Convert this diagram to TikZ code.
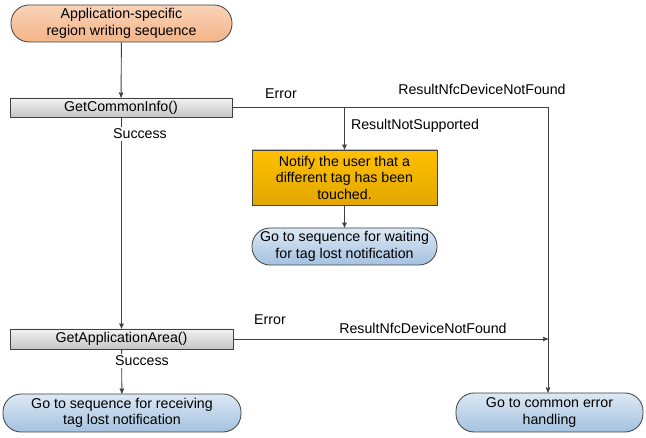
\documentclass[tikz,border=0pt]{standalone}
\usepackage{fontspec}
\setmainfont{Liberation Sans}
\usetikzlibrary{arrows}

\definecolor{linegray}{HTML}{404040}
\definecolor{peach}{HTML}{F9D3B8}
\definecolor{peachdark}{HTML}{F4B488}
\definecolor{amber}{HTML}{FFC000}
\definecolor{amberdark}{HTML}{E2A700}
\definecolor{skyblue}{HTML}{DCE8F4}
\definecolor{skybluedark}{HTML}{A4C2E0}

\begin{document}
\begin{tikzpicture}[x=1pt,y=-1pt]
	\tikzstyle{every node}=[font=\fontsize{14.2}{16.5}\selectfont, inner sep=0pt, align=center, text=black]
	\tikzstyle{box}=[draw=linegray, line width=0.8pt, rectangle]
	\tikzstyle{stepcall}=[box, top color=white!90!gray, bottom color=gray!45]
	\tikzstyle{pill}=[box, rounded corners=18pt]
	\tikzstyle{flow}=[draw=linegray, line width=0.9pt]
	\tikzstyle{arr}=[flow, -stealth']
	\tikzstyle{onwire}=[fill=white, inner sep=1.5pt]
	\useasboundingbox (0,0) rectangle (646,438);
	% nodes
	\draw (121.5,23.5) node (start) [pill, top color=peach, bottom color=peachdark, minimum width=221pt, minimum height=37pt] {Application-specific\\region writing sequence};
	\draw (121,107.5) node (info) [stepcall, minimum width=222pt, minimum height=19pt] {GetCommonInfo()};
	\draw (344.5,177.5) node (notify) [box, top color=amber, bottom color=amberdark, minimum width=185pt, minimum height=55pt] {Notify the user that a\\different tag has been\\touched.};
	\draw (344.5,246.5) node (waitlost) [pill, top color=skyblue, bottom color=skybluedark, minimum width=185pt, minimum height=37pt] {Go to sequence for waiting\\for tag lost notification};
	\draw (121.5,339) node (area) [stepcall, minimum width=223pt, minimum height=20pt] {GetApplicationArea()};
	\draw (122,413) node (recvlost) [pill, top color=skyblue, bottom color=skybluedark, minimum width=238pt, minimum height=38pt] {Go to sequence for receiving\\tag lost notification};
	\draw (549.5,412.5) node (errhandle) [pill, top color=skyblue, bottom color=skybluedark, minimum width=187pt, minimum height=39pt] {Go to common error\\handling};
	\coordinate (corner) at (548,107.5);
	\coordinate (split) at (344.5,107.5);
	\coordinate (join) at (548,339);
	% connectors
	\draw[arr] (start) -- (info);
	\draw[flow] (info.east) -- (corner);
	\draw[arr] (corner) -- (errhandle.north -| corner);
	\draw[arr] (split) -- (notify);
	\draw[arr] (notify) -- (waitlost);
	\draw[arr] (info.south -| area) -- (area);
	\draw[arr] (area.east) -- (join);
	\draw[arr] (area) -- (recvlost);
	% labels
	\draw (281,94) node (err1) {Error};
	\draw (482,89) node (nfc1) {ResultNfcDeviceNotFound};
	\draw (415,126) node (unsup) {ResultNotSupported};
	\draw (140,134) node (ok1) [onwire] {Success};
	\draw (270,320) node (err2) {Error};
	\draw (423,328) node (nfc2) {ResultNfcDeviceNotFound};
	\draw (142,361) node (ok2) [onwire] {Success};
\end{tikzpicture}
\end{document}
